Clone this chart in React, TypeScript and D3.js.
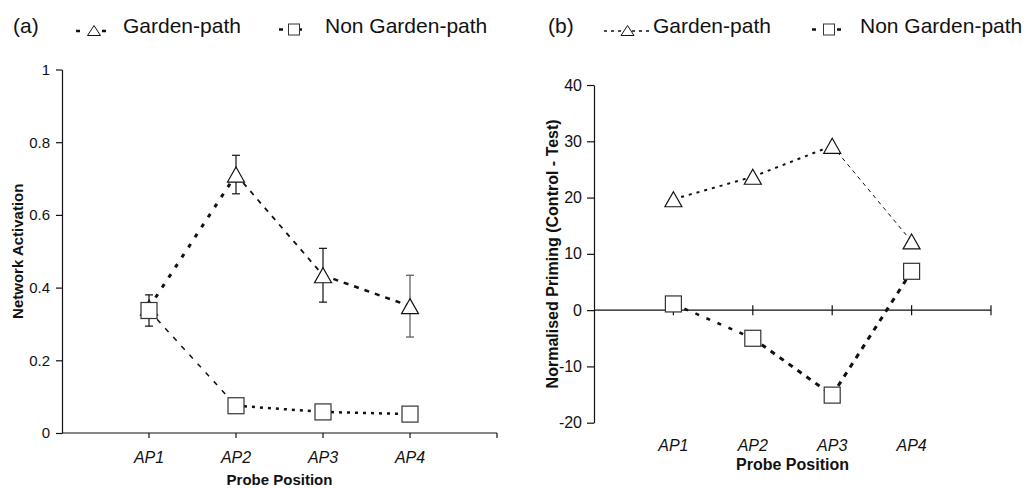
import React, { useEffect, useRef } from "react";
import * as d3 from "d3";

// probe positions (x categories)
const probes = ["AP1", "AP2", "AP3", "AP4"];

// panel (a): network activation
const activationGarden = [0.345, 0.711, 0.434, 0.349];
const activationGardenErr = [0, 0.053, 0.074, 0.085];
const activationNonGarden = [0.337, 0.075, 0.058, 0.052];
const activationNonGardenErr = [0.043, 0, 0, 0];
const activationTicks = [0, 0.2, 0.4, 0.6, 0.8, 1];

// panel (b): normalised priming
const primingGarden = [19.7, 23.7, 29.2, 12.2];
const primingNonGarden = [1.1, -5, -15.1, 6.9];
const primingTicks = [-20, -10, 0, 10, 20, 30, 40];

const FONT = "'Liberation Sans', Arial, Helvetica, sans-serif";

// segment line styles (width, dasharray) per series, per segment
const segA = {
  garden: [[3, "4,8"], [1.8, "5,6"], [2.5, "5,6"]],
  nonGarden: [[1.5, "5,7"], [2.5, "3,5"], [2.5, "3,5"]],
};
const segB = {
  garden: [[2, "3,5"], [2, "3,5"], [1, "4,4"]],
  nonGarden: [[2.5, "4,8"], [3, "5,6"], [3, "5,6"]],
};

const trianglePath = (cx, cy, w, h) =>
  d3.line()([[cx, cy - h / 2], [cx + w / 2, cy + h / 2], [cx - w / 2, cy + h / 2]]) + "Z";

function drawPanel(svg, p) {
  const x = d3.scaleLinear().domain([0, probes.length + 1]).range([p.left, p.right]);
  const y = d3.scaleLinear().domain(p.domain).range([p.bottom, p.top]);
  const g = svg.append("g");

  // y axis
  const yAxis = d3.axisLeft(y)
    .tickValues(p.ticks)
    .tickSize(p.yTick)
    .tickSizeOuter(0)
    .tickPadding(p.yPad)
    .tickFormat((d) => String(d)); // plain hyphen for negatives, like the original
  const ya = g.append("g").attr("transform", `translate(${p.left},0)`).call(yAxis);
  ya.attr("font-family", FONT).attr("font-size", p.tickFont);
  ya.selectAll("text").attr("fill", "#111");
  ya.selectAll("line, path").attr("stroke", "#111").attr("stroke-width", 1.2);

  // x axis (at y = 0)
  const y0 = y(0);
  g.append("line")
    .attr("x1", x(0)).attr("x2", x(probes.length + 1))
    .attr("y1", y0).attr("y2", y0)
    .attr("stroke", "#111").attr("stroke-width", 1.2);
  g.append("g")
    .selectAll("line")
    .data(d3.range(1, probes.length + 2))
    .join("line")
    .attr("x1", (d) => x(d)).attr("x2", (d) => x(d))
    .attr("y1", y0 - p.xTickUp).attr("y2", y0 + 5)
    .attr("stroke", "#111").attr("stroke-width", 1.2);

  // x labels
  g.append("g")
    .selectAll("text")
    .data(probes)
    .join("text")
    .attr("x", (d, i) => x(i + 1))
    .attr("y", p.xLabelY)
    .attr("text-anchor", "middle")
    .attr("font-family", FONT)
    .attr("font-size", 16)
    .attr("font-style", "italic")
    .attr("fill", "#111")
    .text((d) => d);

  g.append("text")
    .attr("x", (p.left + p.right) / 2)
    .attr("y", p.titleY)
    .attr("text-anchor", "middle")
    .attr("font-family", FONT)
    .attr("font-size", p.titleFont)
    .attr("font-weight", "bold")
    .attr("fill", "#111")
    .text("Probe Position");

  g.append("text")
    .attr("transform", `translate(${p.yTitleX},${(p.top + p.bottom) / 2}) rotate(-90)`)
    .attr("text-anchor", "middle")
    .attr("font-family", FONT)
    .attr("font-size", p.titleFont)
    .attr("font-weight", "bold")
    .attr("fill", "#111")
    .text(p.yTitle);

  // lines, one segment at a time (each segment has its own dash)
  const drawSeries = (vals, styles) => {
    for (let i = 0; i < vals.length - 1; i++) {
      g.append("path")
        .attr("d", d3.line()([[x(i + 1), y(vals[i])], [x(i + 2), y(vals[i + 1])]]))
        .attr("fill", "none")
        .attr("stroke", "#111")
        .attr("stroke-width", styles[i][0])
        .attr("stroke-dasharray", styles[i][1]);
    }
  };
  drawSeries(p.garden, p.seg.garden);
  drawSeries(p.nonGarden, p.seg.nonGarden);

  // error bars
  const drawErr = (vals, errs) => {
    vals.forEach((v, i) => {
      if (!errs || !errs[i]) return;
      const cx = x(i + 1);
      const eg = g.append("g").attr("stroke", i === 3 ? "#555" : "#111").attr("stroke-width", 1.2);
      eg.append("line").attr("x1", cx).attr("x2", cx).attr("y1", y(v - errs[i])).attr("y2", y(v + errs[i]));
      eg.append("line").attr("x1", cx - 4).attr("x2", cx + 4).attr("y1", y(v - errs[i])).attr("y2", y(v - errs[i]));
      eg.append("line").attr("x1", cx - 4).attr("x2", cx + 4).attr("y1", y(v + errs[i])).attr("y2", y(v + errs[i]));
    });
  };
  drawErr(p.garden, p.gardenErr);
  drawErr(p.nonGarden, p.nonGardenErr);

  // markers
  g.append("g")
    .selectAll("path")
    .data(p.garden)
    .join("path")
    .attr("d", (d, i) => trianglePath(x(i + 1), y(d), 17, 15))
    .attr("fill", "white")
    .attr("stroke", "#111")
    .attr("stroke-width", 1.2);
  g.append("g")
    .selectAll("rect")
    .data(p.nonGarden)
    .join("rect")
    .attr("x", (d, i) => x(i + 1) - 8)
    .attr("y", (d) => y(d) - 8)
    .attr("width", 16)
    .attr("height", 16)
    .attr("fill", "white")
    .attr("stroke", "#333")
    .attr("stroke-width", 1.2);

  // legend
  const lg = svg.append("g").attr("font-family", FONT).attr("font-size", 21).attr("fill", "#111");
  lg.append("text").attr("x", p.leg.tag).attr("y", 33).text(p.tagText);
  // garden-path entry
  lg.append("line")
    .attr("x1", p.leg.gLine[0]).attr("x2", p.leg.gLine[1]).attr("y1", 31).attr("y2", 31)
    .attr("stroke", "#111").attr("stroke-width", p.leg.gWidth).attr("stroke-dasharray", p.leg.gDash);
  lg.append("path")
    .attr("d", trianglePath(p.leg.gMark, 30.5, 13, 10))
    .attr("fill", "white").attr("stroke", "#111").attr("stroke-width", 1);
  lg.append("text").attr("x", p.leg.gText).attr("y", 33).text("Garden-path");
  // non garden-path entry
  lg.append("line")
    .attr("x1", p.leg.nLine[0]).attr("x2", p.leg.nLine[1]).attr("y1", 29.5).attr("y2", 29.5)
    .attr("stroke", "#111").attr("stroke-width", 2.5).attr("stroke-dasharray", p.leg.nDash);
  lg.append("rect")
    .attr("x", p.leg.nMark - 5.5).attr("y", 24).attr("width", 11).attr("height", 11)
    .attr("fill", "white").attr("stroke", "#333").attr("stroke-width", 1);
  lg.append("text").attr("x", p.leg.nText).attr("y", 33).text("Non Garden-path");
}

const App = () => {
  const ref = useRef(null);

  useEffect(() => {
    const svg = d3.select(ref.current);
    svg.selectAll("*").remove();

    drawPanel(svg, {
      left: 62, right: 497, top: 69.5, bottom: 433,
      domain: [0, 1], ticks: activationTicks,
      yTick: 6, yPad: 6, tickFont: 15, xTickUp: 0,
      xLabelY: 462.5, titleY: 485, titleFont: 15, yTitleX: 22.5,
      yTitle: "Network Activation",
      garden: activationGarden, gardenErr: activationGardenErr,
      nonGarden: activationNonGarden, nonGardenErr: activationNonGardenErr,
      seg: segA, tagText: "(a)",
      leg: {
        tag: 13, gLine: [76, 106], gWidth: 2.5, gDash: "4,22", gMark: 94, gText: 123,
        nLine: [279, 302], nDash: "4,15", nMark: 294, nText: 325,
      },
    });

    drawPanel(svg, {
      left: 594, right: 991, top: 85, bottom: 422.7,
      domain: [-20, 40], ticks: primingTicks,
      yTick: 7, yPad: 5, tickFont: 16, xTickUp: 5,
      xLabelY: 451, titleY: 470, titleFont: 16, yTitleX: 557.5,
      yTitle: "Normalised Priming (Control - Test)",
      garden: primingGarden, gardenErr: null,
      nonGarden: primingNonGarden, nonGardenErr: null,
      seg: segB, tagText: "(b)",
      leg: {
        tag: 548, gLine: [604, 650], gWidth: 1.5, gDash: "3,4", gMark: 627.5, gText: 653,
        nLine: [812, 841], nDash: "4,21", nMark: 829, nText: 860,
      },
    });
  }, []);

  return (
    <svg
      ref={ref}
      width={1027}
      height={488}
      style={{ position: "absolute", left: 0, top: 0, background: "white" }}
    />
  );
};

export default App;
